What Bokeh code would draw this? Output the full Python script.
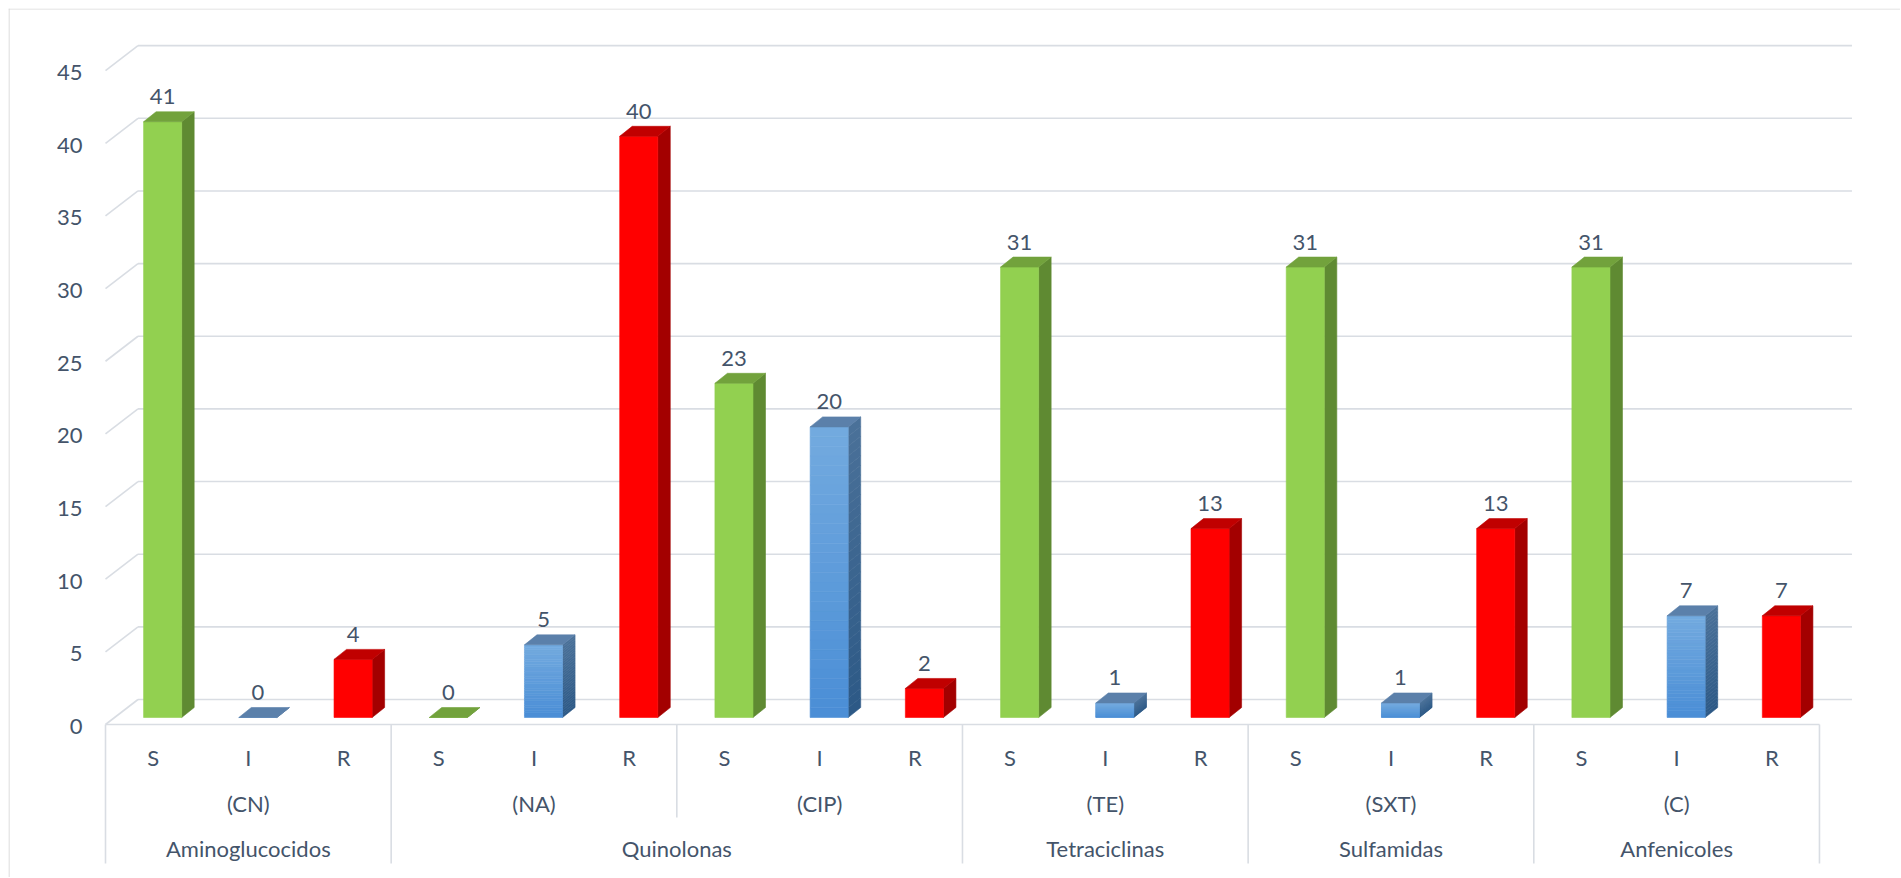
from bokeh.plotting import figure
from bokeh.models import ColumnDataSource
from bokeh.core.properties import value
from bokeh.embed import file_html
from bokeh.resources import INLINE

# ---------------- data ----------------
families = ["Aminoglucocidos", "Quinolonas", "Tetraciclinas", "Sulfamidas", "Anfenicoles"]
antibiotics = ["(CN)", "(NA)", "(CIP)", "(TE)", "(SXT)", "(C)"]
antibiotic_family = ["Aminoglucocidos", "Quinolonas", "Quinolonas", "Tetraciclinas", "Sulfamidas", "Anfenicoles"]
levels = ["S", "I", "R"]
S_values = [41, 0, 23, 31, 31, 31]
I_values = [0, 5, 20, 1, 1, 7]
R_values = [4, 40, 2, 13, 13, 7]
y_ticks = [0, 5, 10, 15, 20, 25, 30, 35, 40, 45]

# ---------------- layout / style ----------------
W, H = 1900, 877
MB_LEFT, MB_TOP = 8, 8
FW, FH = W - MB_LEFT, H - MB_TOP       # frame size
PX_X = 95.22            # px per category
PX_Y = 14.53            # px per value unit
ORIGIN_X, ORIGIN_Y = 105, 724          # page px of the front-floor origin
x_start = (MB_LEFT - ORIGIN_X) / PX_X
x_end = x_start + FW / PX_X
y_end = (ORIGIN_Y - MB_TOP) / PX_Y
y_start = y_end - FH / PX_Y

WALL_DX, WALL_DY = 32.5 / PX_X, 25 / PX_Y
BAR_BASE = 7 / PX_Y
BAR_LEFT, BAR_W = 0.4, 0.4
SIDE_DX, SIDE_DY = 12.5 / PX_X, 10 / PX_Y

GRID = "#D9DDE3"
BORDER = "#D9D9D9"
TEXT = "#44546A"
FONT = value("Lato")
FSIZE = value("22px")

STYLE = {
    "S": dict(front=("#92D050", "#92D050"), side=("#5F8A32", "#5F8A32"), top="#72A23C"),
    "I": dict(front=("#4A8ED6", "#73AADF"), side=("#2C5986", "#4B7199"), top="#5B80AA"),
    "R": dict(front=("#FF0000", "#FF0000"), side=("#A30000", "#A30000"), top="#C00000"),
}


def _rgb(h):
    h = h.lstrip("#")
    return [int(h[i:i + 2], 16) for i in (0, 2, 4)]


def mix(c_bottom, c_top, t):
    a, b = _rgb(c_bottom), _rgb(c_top)
    return "#%02X%02X%02X" % tuple(round(a[i] + (b[i] - a[i]) * t) for i in range(3))


values_by_level = {"S": S_values, "I": I_values, "R": R_values}
n_cat = len(antibiotics) * len(levels)

p = figure(width=W, height=H, x_range=(x_start, x_end), y_range=(y_start, y_end),
           output_backend="svg", toolbar_location=None,
           x_axis_type=None, y_axis_type=None,
           min_border_left=MB_LEFT, min_border_top=MB_TOP,
           min_border_right=0, min_border_bottom=0)
p.background_fill_color = "white"
p.border_fill_color = "white"
p.outline_line_color = None

# ---- chart-area border (top and left edges; the others run off the page) ----
p.segment(x0=[x_start, x_start + 0.5 / PX_X], y0=[y_end - 0.5 / PX_Y, y_start],
          x1=[x_end, x_start + 0.5 / PX_X], y1=[y_end - 0.5 / PX_Y, y_end],
          line_color=BORDER, line_width=1.2)

# ---- back wall gridlines and left-wall stubs ----
p.segment(x0=[WALL_DX] * len(y_ticks), y0=[t + WALL_DY for t in y_ticks],
          x1=[n_cat + WALL_DX] * len(y_ticks), y1=[t + WALL_DY for t in y_ticks],
          line_color=GRID, line_width=1.6)
p.segment(x0=[0] * len(y_ticks), y0=y_ticks,
          x1=[WALL_DX] * len(y_ticks), y1=[t + WALL_DY for t in y_ticks],
          line_color=GRID, line_width=1.6)

# ---- category axis line and separators ----
p.segment(x0=[0], y0=[0], x1=[n_cat], y1=[0], line_color=GRID, line_width=1.6)
full_sep = [0]
short_sep = []
for a in range(1, len(antibiotics)):
    if antibiotic_family[a] != antibiotic_family[a - 1]:
        full_sep.append(3 * a)
    else:
        short_sep.append(3 * a)
full_sep.append(n_cat)
FULL_LEN, SHORT_LEN = 139 / PX_Y, 93 / PX_Y
p.segment(x0=full_sep, y0=[0] * len(full_sep), x1=full_sep, y1=[-FULL_LEN] * len(full_sep),
          line_color=GRID, line_width=1.6)
p.segment(x0=short_sep, y0=[0] * len(short_sep), x1=short_sep, y1=[-SHORT_LEN] * len(short_sep),
          line_color=GRID, line_width=1.6)

# ---- bars (front, side, top faces) ----
front = dict(left=[], right=[], bottom=[], top=[], color=[])
side = dict(xs=[], ys=[], color=[])
topf = dict(xs=[], ys=[], color=[])
vlab = dict(x=[], y=[], text=[])
N_STRIPS = 30
for a in range(len(antibiotics)):
    for j, lvl in enumerate(levels):
        k = 3 * a + j
        v = values_by_level[lvl][a]
        st = STYLE[lvl]
        xl = k + BAR_LEFT
        xr = xl + BAR_W
        y0 = BAR_BASE
        y1 = BAR_BASE + v
        grad = st["front"][0] != st["front"][1]
        n = N_STRIPS if (grad and v > 0) else 1
        for s in range(n):
            b = y0 + (y1 - y0) * s / n
            t = y0 + (y1 - y0) * (s + 1) / n
            frac = (s + 0.5) / n
            front["left"].append(xl)
            front["right"].append(xr)
            front["bottom"].append(b)
            front["top"].append(t)
            front["color"].append(mix(st["front"][0], st["front"][1], frac))
            side["xs"].append([xr, xr + SIDE_DX, xr + SIDE_DX, xr])
            side["ys"].append([b, b + SIDE_DY, t + SIDE_DY, t])
            side["color"].append(mix(st["side"][0], st["side"][1], frac))
        topf["xs"].append([xl, xr, xr + SIDE_DX, xl + SIDE_DX])
        topf["ys"].append([y1, y1, y1 + SIDE_DY, y1 + SIDE_DY])
        topf["color"].append(st["top"])
        vlab["x"].append(k + BAR_LEFT + BAR_W / 2)
        vlab["y"].append(v)
        vlab["text"].append(str(v))

p.patches(xs="xs", ys="ys", fill_color="color", line_color="color", line_width=0.6,
          source=ColumnDataSource(side))
p.quad(left="left", right="right", bottom="bottom", top="top",
       fill_color="color", line_color="color", line_width=0.6,
       source=ColumnDataSource(front))
p.patches(xs="xs", ys="ys", fill_color="color", line_color="color", line_width=0.6,
          source=ColumnDataSource(topf))

# ---- value labels ----
p.text(x="x", y="y", text="text", source=ColumnDataSource(vlab),
       text_font=FONT, text_font_size=FSIZE, text_color=TEXT,
       text_align="center", text_baseline="middle", y_offset=-32)

# ---- y tick labels ----
p.text(x=[0] * len(y_ticks), y=y_ticks, text=[str(t) for t in y_ticks],
       text_font=FONT, text_font_size=FSIZE, text_color=TEXT,
       text_align="right", text_baseline="middle", x_offset=-23, y_offset=2)

# ---- category labels (3 levels) ----
lvl1_x = [3 * a + j + 0.5 for a in range(len(antibiotics)) for j in range(len(levels))]
lvl1_t = [lv for a in range(len(antibiotics)) for lv in levels]
p.text(x=lvl1_x, y=[0] * len(lvl1_x), text=lvl1_t,
       text_font=FONT, text_font_size=FSIZE, text_color=TEXT,
       text_align="center", text_baseline="middle", y_offset=33)

lvl2_x = [3 * a + 1.5 for a in range(len(antibiotics))]
p.text(x=lvl2_x, y=[0] * len(lvl2_x), text=antibiotics,
       text_font=FONT, text_font_size=FSIZE, text_color=TEXT,
       text_align="center", text_baseline="middle", y_offset=79)

lvl3_x = []
for fam in families:
    idx = [a for a, f in enumerate(antibiotic_family) if f == fam]
    lvl3_x.append((3 * idx[0] + 3 * (idx[-1] + 1)) / 2)
p.text(x=lvl3_x, y=[0] * len(lvl3_x), text=families,
       text_font=FONT, text_font_size=FSIZE, text_color=TEXT,
       text_align="center", text_baseline="middle", y_offset=124)

open("out.html", "w").write(file_html(p, INLINE))
